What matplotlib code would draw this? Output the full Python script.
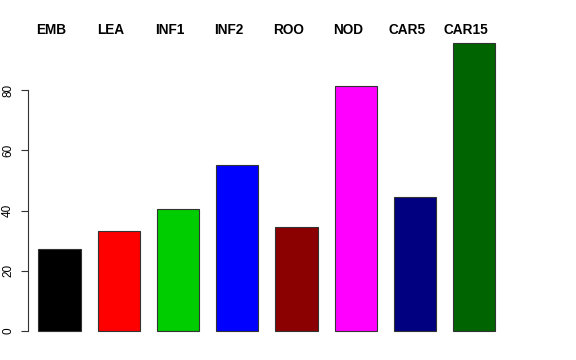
import matplotlib
matplotlib.use("Agg")
import matplotlib.pyplot as plt
import matplotlib.transforms as mtransforms
import numpy as np

plt.rcParams['font.family'] = ['Liberation Sans', 'DejaVu Sans']

# tissues and their values
tissues = ["EMB", "LEA", "INF1", "INF2", "ROO", "NOD", "CAR5", "CAR15"]
values = [27.1, 33.2, 40.5, 55.0, 34.6, 81.5, 44.4, 95.6]
colours = ["#000000", "#FF0000", "#00CD00", "#0000FF",
           "#8B0000", "#FF00FF", "#000080", "#006400"]
yticks = [0, 20, 40, 60, 80]

W, H = 576, 360
fig = plt.figure(figsize=(W / 100, H / 100), dpi=100)

# plot region in pixels (R-like layout)
left_px, right_px = 28, 520
top_px, bottom_px = 30.5, 342.6
ax = fig.add_axes([left_px / W, 1 - bottom_px / H,
                   (right_px - left_px) / W, (bottom_px - top_px) / H])

space = 0.4
x = space + np.arange(len(tissues)) * (1 + space)
ax.bar(x, values, width=1, align='edge', color=colours,
       edgecolor='#333333', linewidth=0.8)

unit = 59.24 / 1.4  # pixels per x unit
ax.set_xlim(space - 10.3 / unit, space + (right_px - 38.3) / unit)
ax.set_ylim(-3.84, 99.84)

for s in ['top', 'right', 'bottom']:
    ax.spines[s].set_visible(False)
ax.spines['left'].set_bounds(0, 80)
ax.spines['left'].set_linewidth(0.8)
ax.spines['left'].set_color('#333333')
ax.set_xticks([])
ax.set_yticks(yticks)
ax.set_yticklabels([str(t) for t in yticks], rotation=90, va='center',
                   fontsize=8.5)
ax.tick_params(axis='y', length=5, width=0.8, pad=5, color='#333333')

# names on top, slightly left of bar centres
trans = mtransforms.blended_transform_factory(ax.transData, fig.transFigure)
for xi, name in zip(x, tissues):
    ax.text(xi + 0.5 - 8 / unit, 1 - 30 / H, name, transform=trans,
            ha='center', va='center', fontsize=9.8, fontweight='bold')

fig.savefig("out.png", dpi=100)
